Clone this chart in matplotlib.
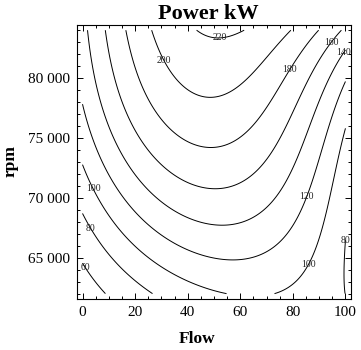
import numpy as np
import matplotlib
matplotlib.use("Agg")
import matplotlib.pyplot as plt
from matplotlib.ticker import MultipleLocator, FuncFormatter

plt.rcParams['font.family'] = ['Liberation Serif', 'DejaVu Serif']

# contour points: (flow, rpm) for each power level
c60_flow = [0.0, 3.6, 9.2]
c60_rpm = [64620, 63600, 62130]
c80_flow = [0.3, 7.9, 23.5, 100.0, 99.1, 100.0]
c80_rpm = [68130, 65700, 62000, 68800, 65700, 62190]
c100_flow = [0.3, 11.7, 27.0, 48.6, 52.0, 72.7, 79.0, 85.4, 94.3, 98.1, 100.0]
c100_rpm = [72390, 68490, 64870, 62630, 62020, 62020, 62780, 64450, 67650, 73230, 77000]
c120_flow = [0.3, 4.8, 48.6, 54.3, 79.0, 84.8, 91.1, 100.0]
c120_rpm = [77830, 74060, 64850, 64780, 67620, 70130, 74060, 79500]
c140_flow = [1.8, 8.6, 48.6, 79.0, 82.9, 88.6, 100.0]
c140_rpm = [84000, 77410, 67880, 72000, 74060, 77410, 82260]
c160_flow = [8.6, 16.6, 48.6, 72.7, 80.3, 95.4, 97.8]
c160_rpm = [84000, 77410, 70760, 74060, 77410, 82840, 84000]
c180_flow = [16.6, 26.4, 47.3, 70.2, 79.7, 89.2]
c180_rpm = [84000, 77410, 74180, 77410, 80610, 84000]
c200_flow = [26.1, 30.3, 37.1, 47.0, 57.4, 67.6, 79.3]
c200_rpm = [84000, 81360, 79250, 78300, 79300, 81590, 84000]
c220_flow = [44.4, 47.0, 49.8, 54.0, 58.0, 61.5]
c220_rpm = [84000, 83600, 83340, 83420, 83620, 84000]

levels = [60, 80, 100, 120, 140, 160, 180, 200, 220]
level_flow = [c60_flow, c80_flow, c100_flow, c120_flow, c140_flow,
              c160_flow, c180_flow, c200_flow, c220_flow]
level_rpm = [c60_rpm, c80_rpm, c100_rpm, c120_rpm, c140_rpm,
             c160_rpm, c180_rpm, c200_rpm, c220_rpm]

# where the contour labels sit
label_flow = [1.0, 1.6, 99.1, 2.6, 85.4, 84.8, 99.3, 95.4, 79.7, 30.3, 52.4]
label_rpm = [64170, 67230, 66900, 70580, 64510, 70130, 82200, 82840, 80610, 81360, 83340]

F = np.concatenate([np.array(f, float) for f in level_flow])
R = np.concatenate([np.array(r, float) for r in level_rpm])
P = np.concatenate([np.full(len(f), lv, float) for f, lv in zip(level_flow, levels)])

deg = 4


def basis(f, r):
    u = np.asarray(f) / 100.0
    v = (np.asarray(r) - 73000.0) / 11000.0
    return np.stack([u**i * v**j for i in range(deg + 1) for j in range(deg + 1 - i)], axis=-1)


coef, *_ = np.linalg.lstsq(basis(F, R), P, rcond=None)

fg, rg = np.meshgrid(np.linspace(0, 100, 301), np.linspace(62000, 84000, 301))
Z = basis(fg, rg) @ coef

fig = plt.figure(figsize=(3.61, 3.5), dpi=100)
ax = fig.add_axes([0.214, 0.146, 0.7575, 0.7828])

cs = ax.contour(fg, rg, Z, levels=levels, colors='black', linewidths=0.7)
lbls = ax.clabel(cs, inline=False, fontsize=7, colors='#222222',
                 manual=list(zip(label_flow, label_rpm)), fmt='%d')
for t in lbls:
    t.set_rotation(0)

ax.set_xlim(-2, 102)
ax.set_ylim(61560, 84440)
ax.xaxis.set_major_locator(MultipleLocator(20))
ax.xaxis.set_minor_locator(MultipleLocator(5))
ax.yaxis.set_major_locator(MultipleLocator(5000))
ax.yaxis.set_minor_locator(MultipleLocator(1000))
ax.yaxis.set_major_formatter(FuncFormatter(lambda v, p: '{:,.0f}'.format(v).replace(',', ' ')))
ax.tick_params(which='both', direction='in', top=True, right=True, labelsize=11, width=0.7)
ax.tick_params(which='major', length=4.5, pad=5)
ax.tick_params(which='minor', length=2.2)
for s in ax.spines.values():
    s.set_linewidth(0.8)

fig.text(0.576, 0.945, 'Power kW', ha='center', va='baseline', fontsize=16, fontweight='bold')
fig.text(0.545, 0.02, 'Flow', ha='center', va='baseline', fontsize=12.5, fontweight='bold')
fig.text(0.03, 0.54, 'rpm', ha='center', va='center', rotation=90, fontsize=12.5, fontweight='bold')

fig.savefig('out.png', dpi=100)
